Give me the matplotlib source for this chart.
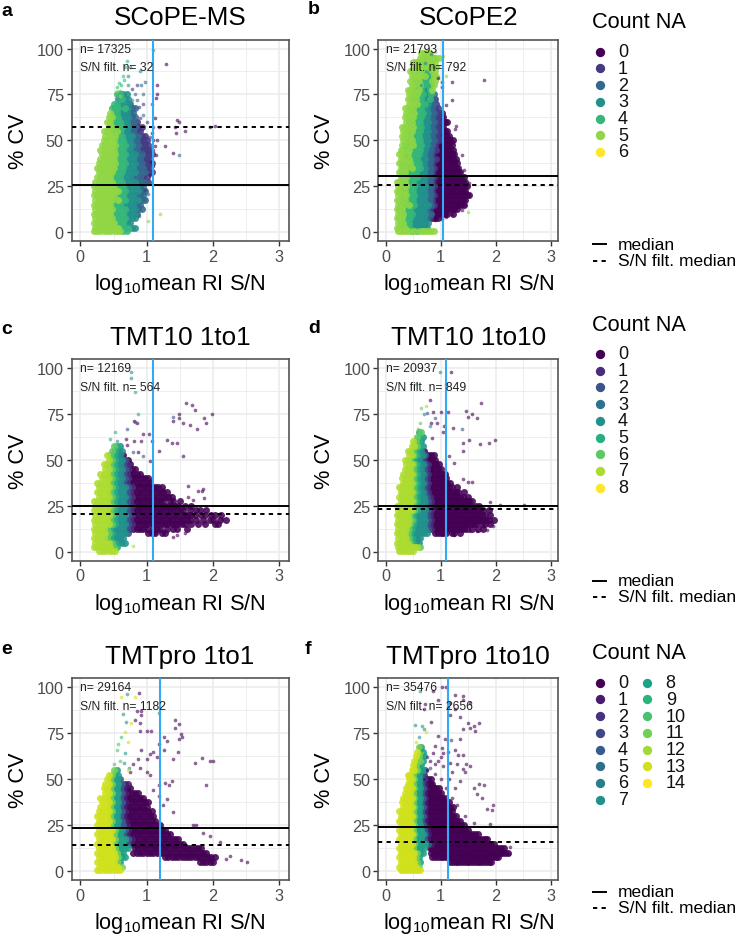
import numpy as np
import matplotlib
matplotlib.use('Agg')
import matplotlib.pyplot as plt

plt.rcParams['font.family'] = ['Liberation Sans', 'DejaVu Sans']
plt.rcParams['mathtext.default'] = 'regular'

TITLES = ['SCoPE-MS', 'SCoPE2', 'TMT10 1to1', 'TMT10 1to10', 'TMTpro 1to1', 'TMTpro 1to10']
LETTERS = ['a', 'b', 'c', 'd', 'e', 'f']
N_TOTAL = [17325, 21793, 12169, 20937, 29164, 35476]
N_FILT = [32, 792, 564, 849, 1182, 2656]
MEDIAN = [25.5, 30.5, 25, 25, 23.5, 24]
FILT_MEDIAN = [57.5, 25.5, 20.5, 23.5, 14, 16]
CUTOFF = [1.1, 1.05, 1.1, 1.1, 1.2, 1.14]
LEVELS = [7, 7, 9, 9, 15, 15]
X_TICKS = [0, 1, 2, 3]
Y_TICKS = [0, 25, 50, 75, 100]

# Each string is one %CV row (from *_TOP down in steps of CV_STEP); each character is the Count NA
# colour (hex digit) seen in that cell, '.' = no dense cloud there. Columns start at X_START.
X_START, X_STEP, CV_STEP = .15, .05, 2.5

A_TOP = 75
A_CLOUD = ["........4433", "........3433", ".......443332", "......44434322", "......54433322",
           ".....554433322", ".....5544433221", ".....55444332211", "....555454332211",
           "....5555443332211", "....55554443322111", "...555554443322111", "...5555544433221111",
           "...5555544433322111", "...5555544433322111", "..55555544433322111", "..55555544433322211",
           "..55555444333322211", "..5555544433322211", ".55555544433332221", ".5555555444333322",
           ".5555555544333322", ".5555555444333222", ".5555554544333322", ".555555444333322",
           ".555555444433322", ".55555544443332", ".5555554444333", ".555555544433",
           ".5555555544433", ".55555555544"]

B_TOP = 97.5
B_CLOUD = ["..........5555", ".........55455455", ".......555545555", ".......555545355",
           "......5554543455", "......5555453455", "......5545434355", "......554543435",
           ".....5554543345", ".....5545443342", ".....55454433421", ".....55454343221",
           "....5545444332211", "....55454443322110", "....554544433221100", "....5454443332211000",
           "...5554544433221100", "...55454443332211000", "...554544433322110000",
           "...5545444333221100000", "...5454543433221000000", "..55454444332211000000",
           "..554544443322100000000", "..554544433322110000000", "..5454544433221000000000",
           "..5454544433221000000000", "..54544443332210000000000", "..545444433322100000000000",
           ".55454443333221000000000000", ".55454443333221000000000000", ".55454443333221000000000000",
           ".554544433332210000000000000", ".55454443333221000000000000", ".5454544333332100000000000",
           ".54544433333210000000000", ".5454443333322000000.0", ".5454443333321000",
           ".545443333333", ".554544333333", ".55555454555555"]

C_TOP = 57.5
C_CLOUD = [".......654", "......6544", ".....765440", ".....7654420", "....776544210",
           "....7765442100", "...7776544210000", "...777654421000000", "..77776544210000000.",
           "..77776544421000000000", "..7777654442100000000000", "..77776544421000000000000",
           ".7777765444210000000000.00.0", ".77777654442100000000000000.0.0",
           ".7777765444210000000000000000.0.00.0", ".7777765444210000000000000000000.00.00.0",
           ".777776544421000000000000000000.0.0.00.0.0", ".7777765444210000000000000000.0.0.0..00",
           ".77776544442100000.000.0.00..0", ".77776544442.....000.00..", ".7777654444", ".7777765444",
           ".77777765", "..777777"]

D_TOP = 65
D_CLOUD = [".........56", "........654", ".......7654", "......77654", ".....7765440", ".....7765442000",
           "....776544210000", "....7776544210000", "....77765442100000", "...7777654421000000",
           "...77776544210000000", "...777765442100000000", "..77777654421000000000.0",
           "..7777765442100000000000.0", "..777776544421000000000000.0", "..777776544421000000000000000",
           ".7777776544421000000000000000.00", ".77777765444210000000000000000000.0",
           ".777776544442100000000000000000000.0", ".7777765444421000000000000000000000.0",
           ".777776544442100000000000000000.00.0", ".77776544444210000000000000.0.0.0",
           ".777765444444..00000.00.0..", ".777765444", ".777776544", ".777777776", "..777777"]

E_TOP = 55
E_CLOUD = [".......b8", ".....db88", ".....db884", "....ddb88411", "....ddb884100", "....ddb88410000",
           "...dddb8841000000", "...dddb88410000000", "...dddb88410000000", "..ddddb884100000000",
           "..ddddb8841000000000", "..ddddb8841000000000", "..ddddb884410000000000",
           "..dddddb884100000000000", "..dddddb88410000000000000", "..dddddb8884100000000000000",
           "..dddddb888410000000000000000", "..dddddb8888.000000000000000000000",
           "..ddddddb88..00000000000000000000000", "..ddddddb88...........0000000000000000",
           "..ddddddb8.......................00000", "..dddddddb", "..dddddddd"]

F_TOP = 67.5
F_CLOUD = [".........b8", "........db8", "........db88", ".......dbb8", ".......db88", "......ddb884",
           ".....ddb8841", ".....ddb884100", ".....ddb8841000", "....dddb884100000",
           "....dddb8841000000", "...ddddb88410000000", "...ddddb8841000000000", "...ddddb88410000000000",
           "..dddddb88410000000000", "..dddddb884100000000000", "..dddddb88410000000000000",
           "..dddddb884100000000000000", "..dddddb88841000000000000000", "..dddddb88841000000000000000000",
           "..dddddb888410000000000000000000000", "..dddddb88884100000000000000000000000",
           "..dddddb8888.0000000000000000000000000000", "..ddddddb88..00000000000000000000000000000",
           "..ddddddb8....0000000000000000000000000", "..ddddddb8..........0000000000000000",
           "..dddddddb", "..dddddddd"]

TOPS = [A_TOP, B_TOP, C_TOP, D_TOP, E_TOP, F_TOP]
CLOUDS = [A_CLOUD, B_CLOUD, C_CLOUD, D_CLOUD, E_CLOUD, F_CLOUD]

# Individually visible points: {Count NA: [(log10 S/N, %CV), ...]}
A_PTS = {
    0: [(1.29, 91.5), (1.45, 61), (1.48, 60), (1.43, 57), (1.58, 55), (1.44, 54), (1.96, 57), (2.03, 58),
        (1.28, 47), (1.4, 43), (1.15, 75), (1.14, 73), (1.15, 80), (1.12, 62), (1.18, 57), (1.15, 50),
        (1.12, 47), (1.14, 42), (1.1, 50), (1.06, 38), (1.1, 36), (1.05, 31), (1.08, 54), (1.1, 45)],
    1: [(1.08, 70), (1.1, 57), (1.05, 52), (.98, 23), (.78, 78), (.85, 80), (.95, 70), (.88, 68), (.9, 62), (1.0, 60), (.98, 46)],
    2: [(1.49, 42), (1.02, 21), (.98, 18), (.88, 9), (.92, 80), (.98, 82), (.95, 75), (.82, 75), (.95, 64), (.85, 72)],
    3: [(1.1, 99), (.9, 88), (.75, 90), (.72, 85), (.78, 72), (.72, 80)],
    4: [(.7, 93), (.68, 90), (.65, 85), (.58, 81), (.62, 80), (.66, 83), (.6, 77), (.56, 79)],
    5: [(1.2, 10), (1.02, 6), (.6, 74), (.55, 77)],
}
B_PTS = {
    0: [(1.78, 83), (1.02, 82), (1.2, 82), (1.03, 79), (.95, 84), (1.2, 72), (1.1, 69), (1.28, 58), (1.26, 56),
        (1.15, 52), (1.22, 49), (1.2, 44), (1.38, 42), (1.42, 34), (1.35, 33), (1.52, 27), (1.48, 25), (1.46, 22),
        (1.42, 18), (1.45, 15), (1.38, 12), (1.2, 10), (1.1, 8), (.9, 6.5), (1.02, 7)],
    3: [(.82, 97), (.72, 92), (.88, 90), (.65, 80)],
    5: [(1.05, 96), (1.1, 85), (1.5, 11), (.9, 98), (.95, 90)],
}
C_PTS = {
    0: [(.69, 61.6), (.81, 71), (.86, 70), (.81, 60), (.91, 60), (.95, 64), (1.03, 64), (1.08, 60), (1.3, 61),
        (1.38, 59), (1.45, 59), (1.18, 55), (1.54, 52), (1.59, 81), (1.69, 80), (1.73, 77), (1.49, 75), (1.48, 73),
        (1.4, 71), (1.54, 70), (1.66, 69), (1.76, 67), (1.86, 72.5), (1.89, 70), (1.99, 75), (1.62, 36), (1.83, 33),
        (1.78, 33), (1.85, 34), (1.63, 30), (1.7, 28), (1.86, 29.5), (1.05, 49.5), (.87, 54), (.7, 58), (1.4, 8),
        (1.45, 9), (1.58, 10.5), (1.08, 11), (1.13, 10.5), (2.13, 18), (2.0, 19.5), (1.25, 34), (1.05, 39), (1.35, 31)],
    2: [(.82, 70.3), (.7, 66.7), (1.4, 73.5), (.95, 52), (.8, 54)],
    4: [(.76, 94.7), (.77, 98), (.55, 60), (.6, 55), (.66, 12)],
    5: [(.82, 86.6), (.87, 74.8), (.52, 65), (.45, 61.6)],
    7: [(.8, 3)],
}
D_PTS = {
    0: [(1.18, 98), (.81, 82.6), (.87, 76), (1.0, 76), (1.14, 76), (.93, 70), (1.06, 68.5), (1.05, 65), (1.23, 67.5),
        (1.46, 76.6), (1.57, 75), (1.5, 73.5), (1.66, 72.5), (1.74, 81), (1.41, 59), (1.52, 61), (1.72, 58.5),
        (1.88, 59.4), (1.99, 61), (1.4, 55), (1.24, 48.5), (1.41, 39.5), (1.5, 38), (1.57, 37.7), (2.08, 25.4),
        (1.9, 27), (2.52, 25.5), (1.96, 14), (1.84, 12), (1.66, 11.4), (1.24, 9), (1.54, 11.4), (.82, 70), (.85, 62), (1.15, 52)],
    2: [(.9, 73), (1.38, 66.7), (.75, 75.5)],
    4: [(.98, 98), (.69, 75), (.8, 68.5), (1.1, 91)],
    6: [(.64, 78), (.55, 91), (.62, 70), (.58, 67)],
    7: [(.73, 79)],
}
E_PTS = {
    0: [(.88, 97), (.85, 87), (.92, 87), (.91, 85), (.83, 82), (.9, 80.6), (.9, 76), (1.0, 76), (1.07, 76), (1.43, 82),
        (1.49, 80), (1.43, 78), (1.51, 74.6), (1.53, 73), (1.48, 72), (1.26, 73), (1.31, 71), (1.18, 69), (1.26, 65.6),
        (1.47, 65), (1.4, 61), (1.73, 59), (1.83, 61.6), (1.96, 59.6), (2.0, 60), (1.89, 47), (2.42, 6), (2.51, 5),
        (2.26, 8.5), (2.2, 6.7), (1.7, 25), (1.75, 25), (1.95, 19), (2.1, 15.8), (1.85, 21), (.92, 65.6), (1.05, 63.8),
        (1.1, 64.7), (1.15, 62), (1, 61), (.87, 61), (1, 53.8), (1.05, 52), (1.38, 49), (1.28, 48), (1.33, 46.6),
        (1.18, 46.6), (1.3, 39), (1.4, 32), (1.25, 36), (.8, 58), (.9, 56), (.75, 54), (1.1, 44), (1.18, 41)],
    7: [(1.19, 86), (.7, 96), (.64, 85.5), (.69, 81), (.67, 64), (.66, 59), (.74, 56)],
    10: [(.62, 73), (.57, 69), (.55, 65.6), (.5, 58), (.6, 60)],
    13: [(.82, 94.6), (.62, 94.6), (.76, 80.6), (.67, 75.6), (.72, 70), (.72, 55)],
}
F_PTS = {
    0: [(1.09, 100), (1.02, 100), (.87, 98), (.72, 91), (.7, 88), (.96, 93), (1.26, 95.5), (1.41, 95), (1.41, 92.8),
        (1.54, 91.5), (1.17, 91.5), (1.13, 89), (1.27, 88), (1.17, 84.6), (1.35, 83.7), (1.5, 80.6), (1.69, 80.6),
        (1.6, 79), (1.54, 78), (1.41, 77), (1.63, 76), (.82, 81), (.96, 73.7), (1.08, 72), (1.35, 72), (.9, 68),
        (1.02, 67), (.87, 64), (1.05, 64), (1.14, 64.7), (1.26, 65.6), (1.32, 63), (1.4, 63), (1.05, 57), (1.17, 59),
        (1.29, 58), (1.47, 58), (1.54, 57), (1.44, 54), (1.41, 55.6), (1.35, 49), (1.26, 45), (1.6, 45), (1.69, 47.5),
        (1.78, 46.6), (1.66, 42), (1.75, 40), (1.96, 35.7), (1.93, 33.5), (1.84, 34), (1.9, 25.7), (2.26, 13),
        (2.25, 9.4), (2.11, 10.3), (.8, 60), (.95, 60), (.75, 55), (.9, 53), (1.0, 50), (1.15, 50), (1.1, 45),
        (.7, 50), (.85, 48), (1.2, 40), (1.3, 36), (1.45, 30), (1.6, 26), (1.2, 54), (1.0, 62), (.9, 58)],
    2: [(1.18, 71.5), (.75, 62), (.8, 56)],
    7: [(.63, 98), (.53, 79.5), (.66, 79), (.69, 77), (.6, 73), (.66, 66)],
    13: [(.73, 75.5), (.55, 70)],
}
POINTS = [A_PTS, B_PTS, C_PTS, D_PTS, E_PTS, F_PTS]

# Layout in reference pixels
W, H = 738, 937
COL_X = [(71.5, 288.7), (378.3, 558.3)]
ROW_Y = [(40.7, 242.0), (360.0, 561.7), (679.3, 881.0)]
LETTER_XY = [(1, 11), (308, 10), (1, 330), (308, 329), (1, 650), (305, 650)]
BLACK = '#000000'
GREY = '#4d4d4d'

fig = plt.figure(figsize=(W / 100, H / 100), dpi=100, facecolor='white')


def viridis(k, n):
    return matplotlib.colormaps['viridis'](k / (n - 1))


for i in range(6):
    (x0, x1), (y0, y1) = COL_X[i % 2], ROW_Y[i // 2]
    ax = fig.add_axes([x0 / W, 1 - y1 / H, (x1 - x0) / W, (y1 - y0) / H])
    ax.set_xlim(-0.133, 3.14)
    ax.set_ylim(-4.8, 104.8)
    ax.set_xticks(X_TICKS)
    ax.set_yticks(Y_TICKS)
    ax.set_xticks([.5, 1.5, 2.5], minor=True)
    ax.set_yticks([12.5, 37.5, 62.5, 87.5], minor=True)
    ax.grid(True, which='major', color='#ebebeb', lw=1.1, zorder=0)
    ax.grid(True, which='minor', color='#ebebeb', lw=.6, zorder=0)
    ax.set_axisbelow(True)
    ax.tick_params(which='minor', length=0)
    ax.tick_params(which='major', length=3.5, width=1, color='#333333', labelcolor=GREY, labelsize=11.7, pad=2)
    for s in ax.spines.values():
        s.set_color('#555555')
        s.set_linewidth(1.2)
    n = LEVELS[i]
    cells = {}
    for r, row in enumerate(CLOUDS[i]):
        for c, ch in enumerate(row):
            if ch != '.':
                # odd rows sit half a cell over so that the map does not read as a lattice
                cells.setdefault(int(ch, 16), []).append(
                    (X_START + (c + .5 * (r % 2)) * X_STEP, max(TOPS[i] - r * CV_STEP, .6)))
    for g in sorted(cells):
        cx, cy = zip(*cells[g])
        ax.scatter(cx, cy, s=25, color=viridis(g, n), alpha=.88, lw=0, zorder=2 + g * .01)
    for g, pts in POINTS[i].items():
        px, py = zip(*pts)
        ax.scatter(px, py, s=7, color=viridis(g, n), alpha=.6, lw=0, zorder=3)
    ax.axhline(MEDIAN[i], color=BLACK, lw=1.4, zorder=4)
    ax.axhline(FILT_MEDIAN[i], color=BLACK, lw=1.4, ls=(0, (2.2, 2.2)), zorder=4)
    ax.axvline(CUTOFF[i], color='#33aaf5', lw=1.5, zorder=5)
    ax.text(0, 100, f'n= {N_TOTAL[i]}', fontsize=8.7, va='center', color='#222222', zorder=6)
    ax.text(0, 89.7, f'S/N filt. n= {N_FILT[i]}', fontsize=8.7, va='center', color='#222222', zorder=6)
    ax.set_title(TITLES[i], fontsize=18.7, pad=11)
    ax.set_xlabel('log$_{10}$mean RI S/N', fontsize=15.7, labelpad=5.5)
    ax.set_ylabel('% CV', fontsize=15.7, labelpad=6)
    fig.text(LETTER_XY[i][0] / W, 1 - LETTER_XY[i][1] / H, LETTERS[i], fontsize=14, fontweight='bold', va='center')

# Legends, positioned in reference pixels
lg = fig.add_axes([0, 0, 1, 1], facecolor='none')
lg.set_xlim(0, W)
lg.set_ylim(H, 0)
lg.axis('off')
LEG_TITLE_Y = [23, 326, 654]
LEG_FIRST_Y = [52.7, 355, 683.7]
LEG_STEP = 16.7
LINE_Y = [(245, 261.7), (581.7, 597.5), (892.7, 908.7)]
LEG_ROWS = [7, 9, 8]
LEG_N = [7, 9, 15]
COL2_X = (646.7, 665.7)
for r in range(3):
    lg.text(592, LEG_TITLE_Y[r], 'Count NA', fontsize=15.7, va='center')
    for k in range(LEG_N[r]):
        col = k // LEG_ROWS[r]
        row = k % LEG_ROWS[r]
        yy = LEG_FIRST_Y[r] + row * LEG_STEP
        cx, tx = (600, 618) if col == 0 else COL2_X
        lg.scatter([cx], [yy], s=45, color=viridis(k, LEG_N[r]), lw=0)
        lg.text(tx, yy, str(k), fontsize=13, va='center', color='#111111')
    lg.plot([593, 606], [LINE_Y[r][0]] * 2, color=BLACK, lw=1.4)
    lg.plot([593, 606], [LINE_Y[r][1]] * 2, color=BLACK, lw=1.4, ls=(0, (2.2, 2.2)))
    lg.text(618, LINE_Y[r][0], 'median', fontsize=12.5, va='center')
    lg.text(618, LINE_Y[r][1], 'S/N filt. median', fontsize=12.5, va='center')

fig.savefig('out.png', dpi=100)
